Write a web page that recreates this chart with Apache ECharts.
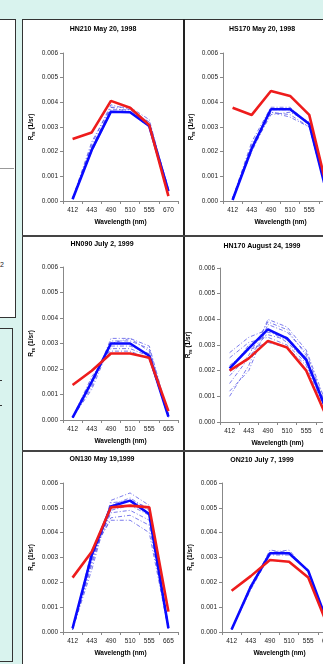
<!DOCTYPE html>
<html>
<head>
<meta charset="utf-8">
<script src="https://cdn.jsdelivr.net/npm/echarts@6/dist/echarts.min.js"></script>
<style>
html,body{margin:0;padding:0;width:323px;height:664px;overflow:hidden;background:#d9f3ee;font-family:"Liberation Sans",Arial,sans-serif;}
.box{position:absolute;box-sizing:border-box;}
#chart{position:absolute;left:0;top:0;width:346px;height:664px;}
</style>
</head>
<body>
<div class="box" style="left:-2px;top:19px;width:18px;height:299px;background:#fff;border:1.5px solid #333;"></div>
<div class="box" style="left:-2px;top:168px;width:16px;height:1px;background:#999;"></div>
<div class="box" style="left:0px;top:261px;font-size:7px;color:#222;">2</div>
<div class="box" style="left:-2px;top:328px;width:15px;height:334px;background:#d9f3ee;border:1.5px solid #333;"></div>
<div class="box" style="left:0px;top:380px;width:2px;height:1px;background:#333;"></div>
<div class="box" style="left:0px;top:405px;width:2px;height:1px;background:#333;"></div>
<div class="box" style="left:22px;top:19px;width:330px;height:660px;background:#fff;border-left:1.5px solid #333;border-top:1.5px solid #333;"></div>
<div class="box" style="left:183px;top:19px;width:1.5px;height:660px;background:#222;"></div>
<div class="box" style="left:22px;top:235px;width:330px;height:1.5px;background:#444;"></div>
<div class="box" style="left:22px;top:450px;width:330px;height:1.5px;background:#444;"></div>
<div id="chart"></div>
<script>
// ---- data ----
const categories1998 = ['412', '443', '490', '510', '555', '670'];
const categories1999 = ['412', '443', '490', '510', '555', '665'];
const yTicks = [0, 0.001, 0.002, 0.003, 0.004, 0.005, 0.006];
const panelTitles = ['HN210 May 20, 1998', 'HS170 May 20, 1998', 'HN090 July 2, 1999', 'HN170 August 24, 1999', 'ON130 May 19,1999', 'ON210 July 7, 1999'];

const hn210Measured = [0.00251, 0.00278, 0.00406, 0.00378, 0.00308, 0.00020];
const hn210Model    = [0.00007, 0.00207, 0.00362, 0.00360, 0.00304, 0.00040];
const hn210Ensemble = [
  [0.0001, 0.0021, 0.0038, 0.0038, 0.0033, 0.0004],
  [0.0001, 0.0022, 0.0037, 0.0037, 0.0032, 0.0005],
  [0.0001, 0.0023, 0.0039, 0.0037, 0.0031, 0.0003],
  [0.0001, 0.0020, 0.0036, 0.0036, 0.0030, 0.0004],
  [0.0001, 0.0024, 0.0038, 0.0036, 0.0032, 0.0005]
];

const hs170Measured = [0.00378, 0.00349, 0.00446, 0.00426, 0.00349, 0.00028];
const hs170Model    = [0.00004, 0.00213, 0.00372, 0.00372, 0.00312, 0.00005];
const hs170Ensemble = [
  [0.0001, 0.0022, 0.0037, 0.0037, 0.0031, 0.0001],
  [0.0001, 0.0023, 0.0036, 0.0035, 0.0030, 0.0001],
  [0.0001, 0.0021, 0.0035, 0.0036, 0.0032, 0.0001],
  [0.0001, 0.0024, 0.0038, 0.0038, 0.0031, 0.0001],
  [0.0001, 0.0020, 0.0036, 0.0034, 0.0030, 0.0001]
];

const hn090Measured = [0.00137, 0.00193, 0.00261, 0.00261, 0.00244, 0.00035];
const hn090Model    = [0.00009, 0.00150, 0.00300, 0.00300, 0.00252, 0.00013];
const hn090Ensemble = [
  [0.0001, 0.0013, 0.0032, 0.0032, 0.0029, 0.0002],
  [0.0001, 0.0014, 0.0031, 0.0031, 0.0028, 0.0002],
  [0.0001, 0.0015, 0.0029, 0.0029, 0.0026, 0.0002],
  [0.0001, 0.0016, 0.0028, 0.0028, 0.0025, 0.0001],
  [0.0001, 0.0017, 0.0027, 0.0027, 0.0024, 0.0001],
  [0.0001, 0.0012, 0.0030, 0.0032, 0.0027, 0.0002]
];

const hn170Measured = [0.00200, 0.00248, 0.00316, 0.00290, 0.00200, 0.00030];
const hn170Model    = [0.00209, 0.00287, 0.00361, 0.00326, 0.00242, 0.00056];
const hn170Ensemble = [
  [0.0010, 0.0022, 0.0040, 0.0037, 0.0028, 0.0008],
  [0.0012, 0.0020, 0.0038, 0.0035, 0.0027, 0.0007],
  [0.0015, 0.0025, 0.0035, 0.0033, 0.0025, 0.0006],
  [0.0027, 0.0033, 0.0036, 0.0031, 0.0024, 0.0005],
  [0.0025, 0.0031, 0.0033, 0.0030, 0.0023, 0.0005],
  [0.0022, 0.0028, 0.0031, 0.0029, 0.0022, 0.0004],
  [0.0018, 0.0026, 0.0039, 0.0036, 0.0026, 0.0006],
  [0.0020, 0.0030, 0.0034, 0.0032, 0.0025, 0.0005]
];

const on130Measured = [0.00219, 0.00323, 0.00502, 0.00509, 0.00502, 0.00082];
const on130Model    = [0.00015, 0.00310, 0.00505, 0.00529, 0.00475, 0.00015];
const on130Ensemble = [
  [0.0001, 0.0025, 0.0053, 0.0056, 0.0051, 0.0002],
  [0.0001, 0.0027, 0.0051, 0.0054, 0.0049, 0.0002],
  [0.0001, 0.0029, 0.0049, 0.0051, 0.0047, 0.0002],
  [0.0001, 0.0030, 0.0048, 0.0049, 0.0045, 0.0001],
  [0.0001, 0.0031, 0.0046, 0.0047, 0.0043, 0.0001],
  [0.0001, 0.0033, 0.0045, 0.0045, 0.0040, 0.0001],
  [0.0001, 0.0028, 0.0052, 0.0053, 0.0050, 0.0002]
];

const on210Measured = [0.00166, 0.00225, 0.00290, 0.00283, 0.00219, 0.00028];
const on210Model    = [0.00010, 0.00182, 0.00317, 0.00317, 0.00246, 0.00038];
const on210Ensemble = [
  [0.0001, 0.0018, 0.0033, 0.0032, 0.0025, 0.0004],
  [0.0001, 0.0019, 0.0032, 0.0033, 0.0024, 0.0004],
  [0.0001, 0.0017, 0.0031, 0.0031, 0.0025, 0.0003]
];

// ---- assembly ----
const panels = [
  {cats: categories1998, measured: hn210Measured, model: hn210Model, ens: hn210Ensemble},
  {cats: categories1998, measured: hs170Measured, model: hs170Model, ens: hs170Ensemble},
  {cats: categories1999, measured: hn090Measured, model: hn090Model, ens: hn090Ensemble},
  {cats: categories1999, measured: hn170Measured, model: hn170Model, ens: hn170Ensemble},
  {cats: categories1999, measured: on130Measured, model: on130Model, ens: on130Ensemble},
  {cats: categories1999, measured: on210Measured, model: on210Model, ens: on210Ensemble}
];
// layout (pixels)
const layout = [
  {left: 63, top: 53, bottom: 201, tx: 103, ty: 26},
  {left: 223, top: 53, bottom: 201, tx: 262, ty: 26},
  {left: 63, top: 267, bottom: 420, tx: 102, ty: 241},
  {left: 220, top: 268, bottom: 422, tx: 262, ty: 243},
  {left: 63, top: 483, bottom: 632, tx: 102, ty: 456},
  {left: 222, top: 483, bottom: 632, tx: 262, ty: 457}
];
const FONT = '"Liberation Sans", Arial, sans-serif';
const option = {animation: false, backgroundColor: 'transparent', title: [], grid: [], xAxis: [], yAxis: [], series: []};
panels.forEach((p, i) => {
  const L = layout[i];
  option.title.push({text: panelTitles[i], left: L.tx, top: L.ty, textAlign: 'center', padding: 0,
    textStyle: {fontSize: 7, fontWeight: 'bold', color: '#000', fontFamily: FONT}});
  option.grid.push({left: L.left, top: L.top, width: 115, height: L.bottom - L.top, containLabel: false});
  option.xAxis.push({type: 'category', gridIndex: i, data: p.cats, boundaryGap: true,
    name: 'Wavelength (nm)', nameLocation: 'middle', nameGap: 18,
    nameTextStyle: {fontSize: 6.5, fontWeight: 'bold', color: '#000', fontFamily: FONT},
    axisLine: {lineStyle: {color: '#888', width: 1}},
    axisTick: {show: true, length: 3, alignWithLabel: false, lineStyle: {color: '#888'}},
    axisLabel: {fontSize: 6.5, color: '#222', margin: 6, fontFamily: FONT, interval: 0},
    splitLine: {show: false}});
  option.yAxis.push({type: 'value', gridIndex: i, min: yTicks[0], max: yTicks[yTicks.length - 1], interval: 0.001,
    name: '{r|R}{s|rs} (1/sr)', nameLocation: 'middle', nameGap: 27, nameRotate: 90,
    nameTextStyle: {fontSize: 6.5, fontWeight: 'bold', color: '#000', fontFamily: FONT,
      rich: {r: {fontSize: 6.5, fontWeight: 'bold', fontFamily: FONT},
             s: {fontSize: 4.5, fontWeight: 'bold', fontFamily: FONT, padding: [4, 0, 0, 0]}}},
    axisLine: {show: true, lineStyle: {color: '#888', width: 1}},
    axisTick: {show: true, length: 3, lineStyle: {color: '#888'}},
    axisLabel: {fontSize: 6.5, color: '#222', margin: 5, fontFamily: FONT, formatter: v => v.toFixed(3)},
    splitLine: {show: false}});
  p.ens.forEach(arr => {
    option.series.push({type: 'line', xAxisIndex: i, yAxisIndex: i, data: arr, symbol: 'none', silent: true,
      lineStyle: {color: '#5b5be8', width: 0.8, type: [4, 2, 1, 2]}});
  });
  option.series.push({type: 'line', xAxisIndex: i, yAxisIndex: i, data: p.model, symbol: 'none',
    lineStyle: {color: '#0a0aff', width: 2.6}});
  option.series.push({type: 'line', xAxisIndex: i, yAxisIndex: i, data: p.measured, symbol: 'none',
    lineStyle: {color: '#ee1c1c', width: 2.6}});
});
const chart = echarts.init(document.getElementById('chart'), null, {renderer: 'canvas'});
chart.setOption(option);
</script>
</body>
</html>
